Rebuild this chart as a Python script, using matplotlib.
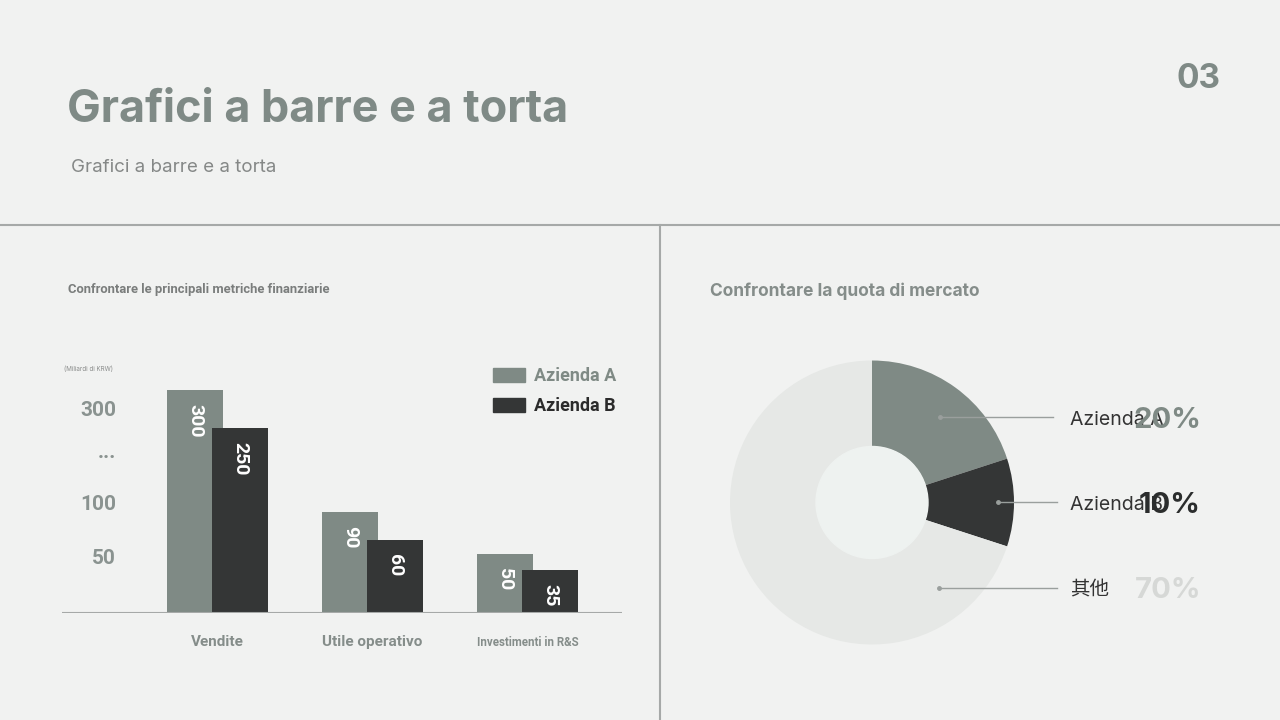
"""
Slide 03: grouped bar chart + donut chart of market share.
"""
import numpy as np
import matplotlib.pyplot as plt
from matplotlib.patches import Patch, Circle

plt.rcParams["font.family"] = ["Inter", "Noto Sans CJK SC", "DejaVu Sans"]

# ── data ──────────────────────────────────────────────────────────────
METRICS = ["Vendite", "Utile operativo", "Investimenti in R&S"]
AZIENDA_A = [300, 90, 50]
AZIENDA_B = [250, 60, 35]
SERIES = ["Azienda A", "Azienda B"]
Y_TICK_LABELS = ["50", "100", "...", "300"]

SHARE_LABELS = ["Azienda A", "Azienda B", "其他"]
SHARE = [20, 10, 70]

# the slide draws the bars on a hand-tuned, non-linear axis:
# value -> bar height in pixels
SCALE_V = [0, 35, 50, 60, 90, 250, 300, 400]
SCALE_H = [0, 43, 59, 73, 101, 185, 223, 300]
TICK_H = [56, 110, 162, 205]

# ── style ─────────────────────────────────────────────────────────────
BG = "#f1f2f1"
C_A = "#7f8a85"
C_B = "#343636"
C_OTHER = "#e6e8e6"
C_HOLE = "#eef2f0"
C_TEXT = "#7f8a86"
C_LINE = "#a6a9a8"
W, H = 1280, 720


def fx(px):
    return px / W


def fy(py):
    return 1 - py / H


fig = plt.figure(figsize=(W / 100, H / 100), dpi=100)
fig.patch.set_facecolor(BG)

# header
fig.text(fx(67), fy(110), "Grafici a barre e a torta", fontsize=32.4, fontweight="bold",
         color=C_TEXT, va="center", ha="left")
fig.text(fx(71), fy(168), "Grafici a barre e a torta", fontsize=13.5,
         color="#858887", va="center", ha="left")
fig.text(fx(1221), fy(79), "03", fontsize=24, fontweight="bold",
         color=C_TEXT, va="center", ha="right")

# panel separators
fig.add_artist(plt.Line2D([0, 1], [fy(225), fy(225)], color=C_LINE, lw=1.5))
fig.add_artist(plt.Line2D([fx(660), fx(660)], [0, fy(225)], color=C_LINE, lw=1.5))

fig.text(fx(68), fy(290), "Confrontare le principali metriche finanziarie", fontsize=9.4,
         fontweight="bold", color="#7a7d7c", va="center", ha="left", family="Roboto")
fig.text(fx(710), fy(291), "Confrontare la quota di mercato", fontsize=12.5,
         fontweight="bold", color="#858d8a", va="center", ha="left")

# ── bar chart ────────────────────────────────────────────────────────
ax = fig.add_axes([fx(62), fy(613), fx(560), 250 / H])
ax.set_facecolor("none")


def fwd(v):
    return np.interp(v, SCALE_V, SCALE_H)


def inv(h):
    return np.interp(h, SCALE_H, SCALE_V)


ax.set_yscale("function", functions=(fwd, inv))

x = np.arange(len(METRICS))
off, bw = 0.145, 0.361
bars_a = ax.bar(x - off, AZIENDA_A, bw, color=C_A, label=SERIES[0], zorder=2)
bars_b = ax.bar(x + off, AZIENDA_B, bw, color=C_B, label=SERIES[1], zorder=3)

for bars, vals in ((bars_a, AZIENDA_A), (bars_b, AZIENDA_B)):
    for b, v in zip(bars, vals):
        ax.annotate(str(v), (b.get_x() + b.get_width() / 2, v), xytext=(0, -10),
                    textcoords="offset points", rotation=-90, ha="center", va="top",
                    color="white", fontsize=14, fontweight="bold", zorder=5,
                    family="Roboto")

ax.set_xlim(-1.003, 2.61)
ax.set_ylim(0, inv(250))
ax.axhline(0, color=C_LINE, lw=1.5, zorder=4)
for s in ax.spines.values():
    s.set_visible(False)
ax.set_xticks([])
ax.set_yticks(inv(np.array(TICK_H)))
ax.set_yticklabels(Y_TICK_LABELS)
ax.yaxis.set_minor_locator(plt.NullLocator())
ax.tick_params(axis="y", length=0, pad=-39, labelsize=15, labelcolor="#8a9390")
for t in ax.get_yticklabels():
    t.set_fontweight("bold")
    t.set_family("Roboto")

for xi, name, fs in zip(x, METRICS, [11, 11, 8.3]):
    ax.annotate(name, (xi, 0), xytext=(0, -21), textcoords="offset points",
                ha="center", va="center", fontsize=fs, fontweight="bold",
                color="#858d8a", family="Roboto", annotation_clip=False)

fig.text(fx(64), fy(369), "(Miliardi di KRW)", fontsize=4.5, color="#8a8c8b",
         va="center", ha="left")

leg = ax.legend(handles=[Patch(color=C_A), Patch(color=C_B)], labels=SERIES,
                loc="upper left", bbox_to_anchor=(fx(493), fy(367)),
                bbox_transform=fig.transFigure, frameon=False, borderpad=0,
                borderaxespad=0, handlelength=1.78, handleheight=0.85,
                handletextpad=0.5, labelspacing=0.68,
                prop={"weight": "bold", "size": 13, "family": "Roboto"},
                labelcolor=[C_A, "#2b2b2b"])

# ── donut chart ──────────────────────────────────────────────────────
R = 142.0
cx, cy = 872, 502.5
pax = fig.add_axes([fx(700), fy(680), fx(560), 350 / H])
pax.pie(SHARE, colors=[C_A, C_B, C_OTHER], startangle=90, counterclock=False,
        radius=1, wedgeprops=dict(width=1 - 56 / R, linewidth=0))
pax.add_patch(Circle((0, 0), 56 / R, color=C_HOLE, zorder=3))
pax.set_xlim((700 - cx) / R, (1260 - cx) / R)
pax.set_ylim(-(680 - cy) / R, (cy - 330) / R)
pax.set_aspect("auto")
pax.axis("off")

row_y = [0.60, 0.0, -0.60]
dot_x = [0.48, 0.89, 0.47]
line_end = [(1053 - cx) / R, (1057 - cx) / R, (1057 - cx) / R]
pct_colors = [C_A, "#2b2d2d", "#d6d8d6"]
for lab, val, yy, dx, le, pc in zip(SHARE_LABELS, SHARE, row_y, dot_x, line_end, pct_colors):
    pax.plot([dx, le], [yy, yy], color="#9a9f9d", lw=1, zorder=4)
    pax.plot([dx], [yy], "o", ms=2.5, color="#9a9f9d", zorder=4)
    pax.text((1070 - cx) / R, yy - 3 / R, lab, fontsize=14, color="#333333",
             ha="left", va="center", zorder=5)
    pax.text((1201 - cx) / R, yy - 3 / R, f"{val}%", fontsize=21, fontweight="bold",
             color=pc, ha="right", va="center", zorder=6)

fig.savefig("out.png", dpi=100, facecolor=BG)
